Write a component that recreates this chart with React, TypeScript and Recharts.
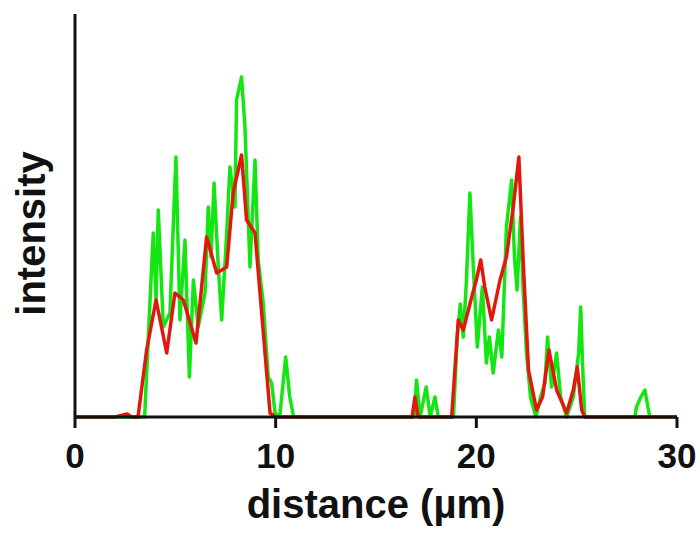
import React from 'react';
import { LineChart, Line, XAxis, YAxis } from 'recharts';

// [distance (µm), intensity (a.u.)]
const greenProfile: [number, number][] = [
  [0, 0], [3.47, 0], [3.7, 100], [3.9, 184], [4.04, 117], [4.15, 207], [4.4, 90], [4.73, 104],
  [5.03, 260], [5.23, 97], [5.48, 177], [5.7, 40], [5.9, 137], [6.14, 90], [6.48, 124], [6.64, 210],
  [6.78, 160], [6.93, 234], [7.14, 150], [7.31, 97], [7.56, 184], [7.72, 250], [7.97, 210], [8.05, 317],
  [8.3, 340], [8.47, 290], [8.72, 150], [8.97, 257], [9.13, 157], [9.38, 114], [9.63, 40], [9.8, 34],
  [9.97, 4], [10.2, 0], [10.5, 60], [10.7, 20], [10.9, 0], [16.9, 0], [17.02, 37], [17.2, 0],
  [17.5, 30], [17.7, 0], [17.94, 20], [18.1, 0], [18.86, 0], [19.05, 80], [19.2, 113], [19.35, 80],
  [19.5, 134], [19.68, 224], [19.85, 150], [20.05, 70], [20.3, 130], [20.5, 54], [20.65, 80], [20.84, 44],
  [21.1, 87], [21.27, 60], [21.5, 190], [21.76, 237], [21.9, 160], [22.03, 127], [22.2, 200], [22.35, 120],
  [22.5, 64], [22.7, 20], [22.97, 0], [23.2, 20], [23.42, 34], [23.55, 80], [23.75, 30], [24.0, 64],
  [24.2, 20], [24.5, 0], [24.83, 20], [25.1, 64], [25.2, 110], [25.3, 50], [25.4, 0], [27.9, 0],
  [27.98, 10], [28.2, 20], [28.4, 27], [28.55, 10], [28.65, 0], [30, 0],
];

const redProfile: [number, number][] = [
  [0, 0], [2.0, 0], [2.6, 3], [2.8, 0], [3.14, 0], [3.57, 67], [4.04, 117], [4.57, 64],
  [4.98, 124], [5.4, 117], [6.03, 74], [6.56, 180], [7.06, 144], [7.56, 150], [7.88, 224], [8.3, 262],
  [8.55, 197], [8.97, 184], [9.22, 124], [9.72, 4], [10.0, 0], [16.8, 0], [16.94, 20], [17.1, 0],
  [18.77, 0], [19.1, 97], [19.35, 87], [19.77, 120], [20.0, 137], [20.22, 157], [20.42, 130], [20.76, 97],
  [21.18, 137], [21.5, 160], [21.84, 210], [22.12, 260], [22.34, 154], [22.6, 47], [23.0, 7], [23.3, 20],
  [23.62, 67], [24.0, 27], [24.5, 4], [24.83, 27], [25.03, 50], [25.25, 7], [25.4, 0], [30, 0],
];

const xTicks = [0, 10, 20, 30];
const xLabel = 'distance (µm)';
const yLabel = 'intensity';

const toRows = (pts: [number, number][]) => pts.map(([d, v]) => ({ d, v }));
const greenData = toRows(greenProfile);
const redData = toRows(redProfile);

const FONT = '"Liberation Sans", Arial, sans-serif';

const XTick = (props: any) => {
  const { x, y, payload } = props;
  return (
    <text x={x} y={y} dy={38} textAnchor="middle" fontFamily={FONT} fontWeight="bold" fontSize={35} fill="#111">
      {payload.value}
    </text>
  );
};

const XTitle = (props: any) => {
  const { viewBox } = props;
  return (
    <text x={viewBox.x + viewBox.width / 2} y={viewBox.y + 101} textAnchor="middle" fontFamily={FONT} fontWeight="bold" fontSize={40} fill="#111">
      {xLabel}
    </text>
  );
};

const YTitle = (props: any) => {
  const { viewBox } = props;
  const cx = viewBox.x + 45;
  const cy = viewBox.y + viewBox.height / 2 + 18;
  return (
    <text transform={`translate(${cx},${cy}) rotate(-90)`} textAnchor="middle" fontFamily={FONT} fontWeight="bold" fontSize={40} fill="#111">
      {yLabel}
    </text>
  );
};

export default function App() {
  return (
    <div style={{ position: 'absolute', left: 0, top: 0, background: '#fff' }}>
      <LineChart width={700} height={533} margin={{ top: 14, right: 23, bottom: 0, left: 0 }}>
        <XAxis
          type="number"
          dataKey="d"
          domain={[0, 30]}
          ticks={xTicks}
          allowDataOverflow
          height={116}
          axisLine={{ stroke: '#111', strokeWidth: 3 }}
          tickLine={{ stroke: '#111', strokeWidth: 3 }}
          tickSize={11}
          tickMargin={2}
          tick={<XTick />}
          label={{ content: <XTitle /> }}
        />
        <YAxis
          type="number"
          dataKey="v"
          domain={[0, 403]}
          width={75}
          tick={false}
          tickLine={false}
          axisLine={{ stroke: '#111', strokeWidth: 3 }}
          label={{ content: <YTitle /> }}
        />
        <Line
          data={greenData}
          dataKey="v"
          type="linear"
          stroke="#14e614"
          strokeWidth={3.5}
          strokeLinejoin="round"
          dot={false}
          isAnimationActive={false}
        />
        <Line
          data={redData}
          dataKey="v"
          type="linear"
          stroke="#e2180f"
          strokeWidth={3.5}
          strokeLinejoin="round"
          dot={false}
          isAnimationActive={false}
        />
      </LineChart>
    </div>
  );
}
